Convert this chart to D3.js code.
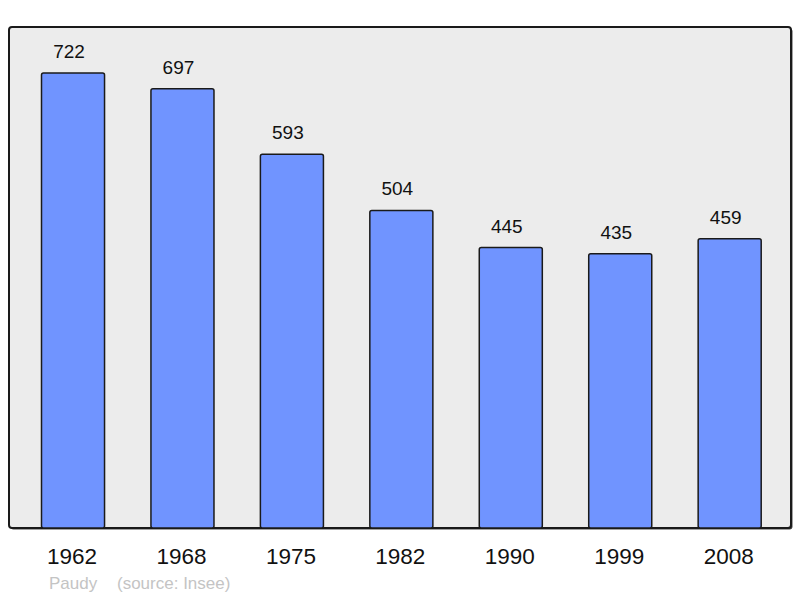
<!DOCTYPE html>
<html>
<head>
<meta charset="utf-8">
<script src="https://cdn.jsdelivr.net/npm/d3@7"></script>
<style>
  html, body { margin: 0; padding: 0; background: #fff; }
  svg { display: block; font-family: "Liberation Sans", Arial, sans-serif; }
</style>
</head>
<body>
<svg id="chart" width="800" height="598"></svg>
<script>
// population by census year
const years = ["1962", "1968", "1975", "1982", "1990", "1999", "2008"];
const population = [722, 697, 593, 504, 445, 435, 459];
const yMax = 795;

const svg = d3.select("#chart");

// plot frame
const frame = { left: 9, top: 27, right: 791, bottom: 528 };

const x = d3.scaleBand()
  .domain(years)
  .range([18.3, 784.4])
  .paddingInner(0.424)
  .paddingOuter(0.212);

const y = d3.scaleLinear()
  .domain([0, yMax])
  .range([frame.bottom, frame.top]);

// background panel with a little shadow
svg.append("rect")
  .attr("x", frame.left + 1.5)
  .attr("y", frame.top + 1.5)
  .attr("width", frame.right - frame.left)
  .attr("height", frame.bottom - frame.top)
  .attr("rx", 3)
  .attr("fill", "#444");

svg.append("rect")
  .attr("x", frame.left)
  .attr("y", frame.top)
  .attr("width", frame.right - frame.left)
  .attr("height", frame.bottom - frame.top)
  .attr("rx", 3)
  .attr("fill", "#ececec")
  .attr("stroke", "#1a1a1a")
  .attr("stroke-width", 2);

const data = years.map((yr, i) => ({ year: yr, value: population[i] }));

svg.append("g")
  .selectAll("rect")
  .data(data)
  .enter().append("rect")
  .attr("x", d => x(d.year))
  .attr("y", d => y(d.value))
  .attr("width", x.bandwidth())
  .attr("height", d => y(0) - y(d.value))
  .attr("rx", 2)
  .attr("fill", "#7094ff")
  .attr("stroke", "#1a1a1a")
  .attr("stroke-width", 1.5);

// value labels (sit a little left of the bar centre, as in the source)
svg.append("g")
  .selectAll("text")
  .data(data)
  .enter().append("text")
  .attr("x", d => x(d.year) + x.bandwidth() / 2 - 4)
  .attr("y", d => y(d.value) - 15)
  .attr("text-anchor", "middle")
  .style("font-size", "19px")
  .attr("fill", "#111")
  .text(d => d.value);

// year labels
svg.append("g")
  .selectAll("text")
  .data(years)
  .enter().append("text")
  .attr("x", d => x(d) + x.bandwidth() / 2 - 1)
  .attr("y", 564)
  .attr("text-anchor", "middle")
  .style("font-size", "22.5px")
  .attr("fill", "#111")
  .text(d => d);

// credits
svg.append("text")
  .attr("x", 49)
  .attr("y", 589)
  .style("font-size", "17px")
  .attr("fill", "#c4c4c4")
  .text("Paudy");

svg.append("text")
  .attr("x", 117)
  .attr("y", 589)
  .style("font-size", "17px")
  .attr("fill", "#c4c4c4")
  .text("(source: Insee)");
</script>
</body>
</html>
